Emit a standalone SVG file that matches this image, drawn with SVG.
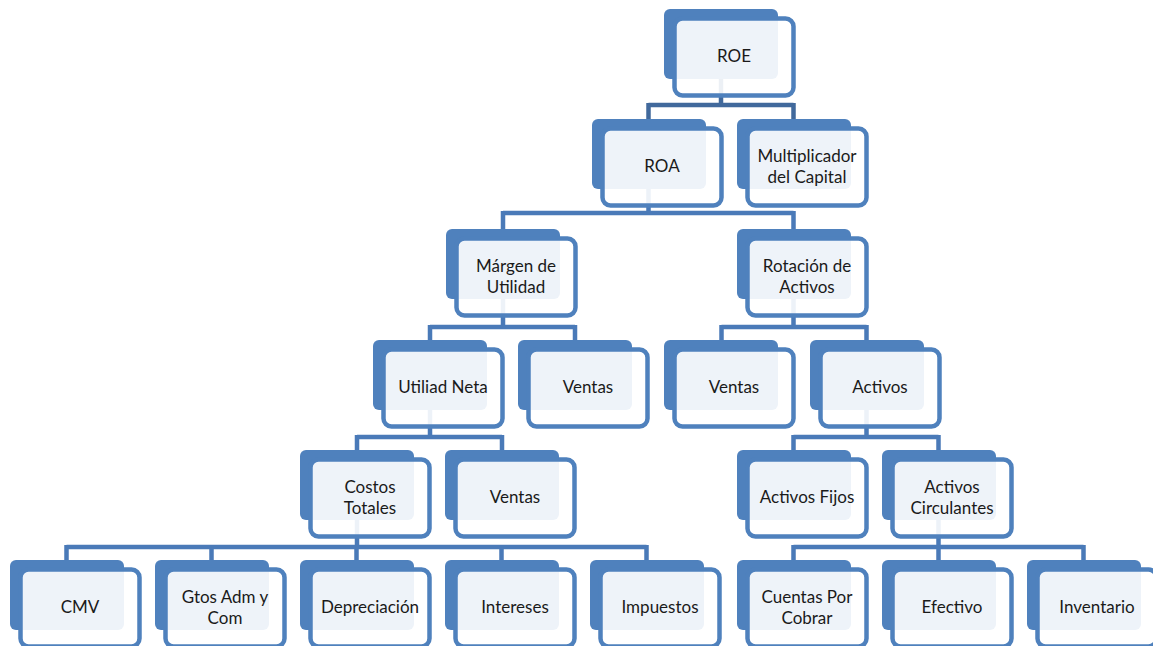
<svg xmlns="http://www.w3.org/2000/svg" width="1153" height="646" viewBox="0 0 1153 646">
<defs>
<style>
.back{fill:#4F81BD}
.front{fill:#ffffff;fill-opacity:0.9;stroke:#4F81BD;stroke-width:4.5}
.t{font-family:Lato,"Liberation Sans",sans-serif;font-size:17px;fill:#1a1a1a;text-anchor:middle}
.c{fill:none;stroke:#4A7AB8;stroke-width:4.5;stroke-linejoin:miter}
.c0{stroke:#41699C}
</style>
<g id="node">
<rect class="back" x="0" y="0" width="114" height="70" rx="6"/>
<rect class="front" x="10.5" y="9.5" width="119" height="77" rx="8"/>
</g>
</defs>
<rect width="1153" height="646" fill="#ffffff"/>
<g id="connectors">
<path class="c c0" d="M721,44 V105 M648.5,105 H793.5 M648.5,103 V119 M793.5,103 V119"/>
<path class="c" d="M648.5,154 V213 M503,213 H793.5 M503,211 V229 M793.5,211 V229"/>
<path class="c" d="M503,264 V327 M430,327 H575 M430,325 V340 M575,325 V340"/>
<path class="c" d="M793.5,264 V327 M721.5,327 H866.5 M721.5,325 V340 M866.5,325 V340"/>
<path class="c" d="M430,375 V437 M357,437 H502 M357,435 V450 M502,435 V450"/>
<path class="c" d="M866.5,375 V437 M793.5,437 H938.5 M793.5,435 V450 M938.5,435 V450"/>
<path class="c" d="M357,485 V547 M66.5,547 H646.5 M66.5,545 V560 M211.5,545 V560 M356.5,545 V560 M501.5,545 V560 M646.5,545 V560"/>
<path class="c" d="M938.5,485 V547 M793.5,547 H1083.5 M793.5,545 V560 M938.5,545 V560 M1083.5,545 V560"/>
</g>
<g id="n-roe"><use href="#node" x="664" y="9"/><text class="t" x="734" y="62">ROE</text></g>
<g id="n-roa"><use href="#node" x="592" y="119"/><text class="t" x="662" y="172">ROA</text></g>
<g id="n-mult"><use href="#node" x="737" y="119"/><text class="t" x="807" y="161.5">Multiplicador</text><text class="t" x="807" y="182.5">del Capital</text></g>
<g id="n-margen"><use href="#node" x="446" y="229"/><text class="t" x="516" y="271.5">Márgen de</text><text class="t" x="516" y="292.5">Utilidad</text></g>
<g id="n-rotacion"><use href="#node" x="737" y="229"/><text class="t" x="807" y="271.5">Rotación de</text><text class="t" x="807" y="292.5">Activos</text></g>
<g id="n-utilidad"><use href="#node" x="373" y="340"/><text class="t" x="443" y="393">Utiliad Neta</text></g>
<g id="n-ventas1"><use href="#node" x="518" y="340"/><text class="t" x="588" y="393">Ventas</text></g>
<g id="n-ventas2"><use href="#node" x="664" y="340"/><text class="t" x="734" y="393">Ventas</text></g>
<g id="n-activos"><use href="#node" x="810" y="340"/><text class="t" x="880" y="393">Activos</text></g>
<g id="n-costos"><use href="#node" x="300" y="450"/><text class="t" x="370" y="492.5">Costos</text><text class="t" x="370" y="513.5">Totales</text></g>
<g id="n-ventas3"><use href="#node" x="445" y="450"/><text class="t" x="515" y="503">Ventas</text></g>
<g id="n-fijos"><use href="#node" x="737" y="450"/><text class="t" x="807" y="503">Activos Fijos</text></g>
<g id="n-circ"><use href="#node" x="882" y="450"/><text class="t" x="952" y="492.5">Activos</text><text class="t" x="952" y="513.5">Circulantes</text></g>
<g id="n-cmv"><use href="#node" x="10" y="560"/><text class="t" x="80" y="613">CMV</text></g>
<g id="n-gtos"><use href="#node" x="155" y="560"/><text class="t" x="225" y="602.5">Gtos Adm y</text><text class="t" x="225" y="623.5">Com</text></g>
<g id="n-depr"><use href="#node" x="300" y="560"/><text class="t" x="370" y="613">Depreciación</text></g>
<g id="n-intereses"><use href="#node" x="445" y="560"/><text class="t" x="515" y="613">Intereses</text></g>
<g id="n-impuestos"><use href="#node" x="590" y="560"/><text class="t" x="660" y="613">Impuestos</text></g>
<g id="n-cuentas"><use href="#node" x="737" y="560"/><text class="t" x="807" y="602.5">Cuentas Por</text><text class="t" x="807" y="623.5">Cobrar</text></g>
<g id="n-efectivo"><use href="#node" x="882" y="560"/><text class="t" x="952" y="613">Efectivo</text></g>
<g id="n-inventario"><use href="#node" x="1027" y="560"/><text class="t" x="1097" y="613">Inventario</text></g>
</svg>
